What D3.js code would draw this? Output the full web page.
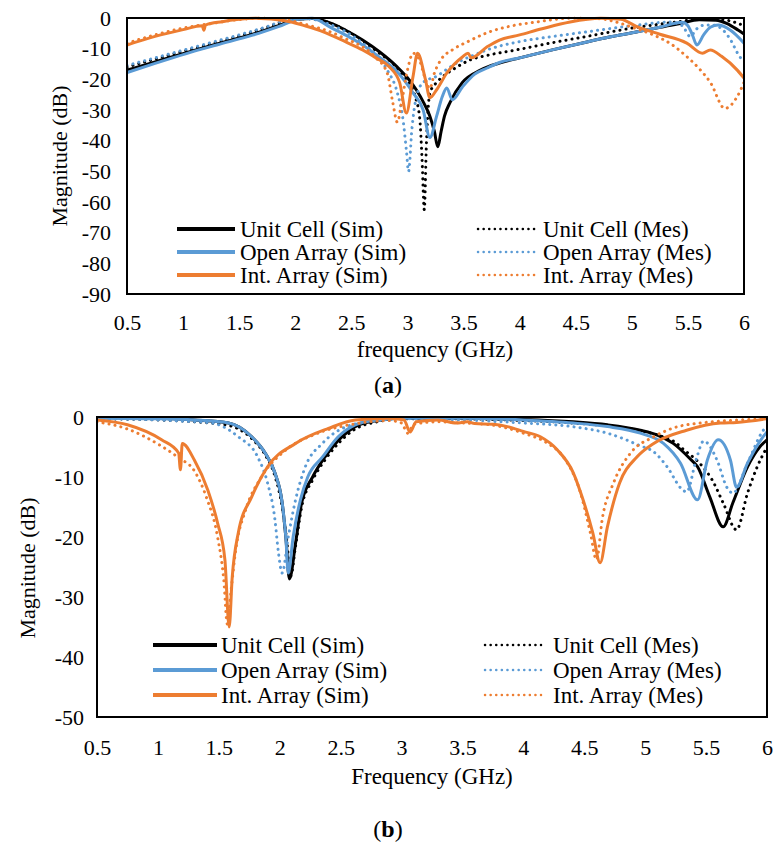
<!DOCTYPE html>
<html>
<head>
<meta charset="utf-8">
<script src="https://cdnjs.cloudflare.com/ajax/libs/d3/7.8.5/d3.min.js"></script>
<style>
body { margin: 0; background: #fff; }
</style>
</head>
<body>
<svg id="chart"></svg>
<script>
// values, [frequency (GHz), magnitude (dB)]

// ---- panel (a)
const unitSimA = [[0.5,-17],[0.75,-14.3],[1.03,-11.3],[1.3,-8.5],[1.62,-5.3],[1.85,-2.5],[2.02,-0.4],[2.15,-0.2],[2.31,-1.6],[2.45,-4],[2.6,-7.2],[2.75,-11],[2.91,-16],[3.0,-19.5],[3.08,-23.5],[3.15,-28],[3.2,-32],[3.24,-37],[3.27,-42],[3.3,-37],[3.33,-32],[3.38,-27.5],[3.49,-21],[3.65,-17],[3.82,-14.7],[4.0,-13],[4.3,-10.3],[4.6,-7.8],[4.8,-6.2],[5.05,-4.5],[5.25,-3],[5.43,-1.8],[5.6,-0.6],[5.75,-0.7],[5.85,-1.8],[5.95,-4],[6.0,-5.2]];
const unitMesA = [[0.5,-16],[0.75,-13.4],[1.0,-10.9],[1.25,-8.4],[1.5,-5.9],[1.75,-3],[1.95,-0.6],[2.1,-0.2],[2.3,-1.5],[2.45,-4],[2.6,-7.5],[2.75,-11.5],[2.9,-16],[2.96,-19],[3.03,-22],[3.07,-25.7],[3.11,-33],[3.13,-46],[3.15,-62.5],[3.17,-40],[3.2,-24.4],[3.26,-21],[3.32,-19],[3.44,-16],[3.55,-13.8],[3.71,-12.2],[4.0,-10.2],[4.3,-8],[4.6,-6],[5.05,-3],[5.4,-1.3],[5.6,-0.3],[5.8,-0.5],[5.9,-1.2],[6.0,-2.5]];
const openSimA = [[0.5,-17.8],[0.75,-14.8],[1.03,-11.6],[1.3,-8.8],[1.62,-5.6],[1.85,-2.8],[2.04,-0.3],[2.15,-0.1],[2.31,-3],[2.45,-5.6],[2.6,-8.8],[2.75,-12.8],[2.91,-17.6],[3.05,-24.4],[3.14,-30],[3.2,-39],[3.26,-32],[3.31,-25.7],[3.35,-22.8],[3.4,-26.7],[3.49,-22.5],[3.6,-18.3],[3.71,-16.3],[3.82,-14.5],[4.0,-13],[4.3,-10.3],[4.6,-7.8],[4.8,-6.2],[5.05,-4.5],[5.25,-3],[5.45,-1.4],[5.5,-2.5],[5.54,-5.5],[5.58,-8.8],[5.64,-5.5],[5.7,-3],[5.77,-2.3],[5.88,-4],[6.0,-8.2]];
const openMesA = [[0.5,-15.5],[0.75,-13],[1.0,-10.5],[1.25,-8],[1.5,-5.5],[1.75,-2.8],[1.95,-0.4],[2.1,-0.2],[2.3,-2],[2.45,-4.5],[2.6,-8.2],[2.72,-12],[2.82,-17],[2.91,-24.4],[2.96,-33],[2.99,-43],[3.01,-50],[3.04,-36],[3.08,-25.7],[3.14,-21],[3.26,-19],[3.38,-16],[3.49,-13.7],[3.6,-12],[3.71,-10.4],[4.0,-7.7],[4.3,-6],[4.6,-4.5],[5.05,-2.3],[5.34,-1.3],[5.45,-2.5],[5.52,-6],[5.58,-3.5],[5.65,-2.3],[5.72,-2.3],[5.8,-3.5],[5.87,-6.5],[5.96,-12.5],[6.0,-14.3]];
const intSimA = [[0.5,-8.8],[0.75,-6],[1.0,-3.8],[1.17,-2.5],[1.185,-4],[1.2,-2.3],[1.35,-1.2],[1.48,-0.5],[1.65,-0.1],[1.84,-0.6],[1.95,-1.2],[2.1,-2.7],[2.25,-4.5],[2.45,-7.8],[2.6,-10.4],[2.72,-13],[2.84,-16],[2.93,-21],[2.99,-31],[3.05,-19],[3.09,-11.5],[3.16,-20],[3.2,-26],[3.26,-23.4],[3.35,-18],[3.49,-12.7],[3.54,-11.5],[3.57,-13],[3.71,-9.4],[3.82,-7.2],[4.0,-5.5],[4.2,-3.5],[4.45,-1.3],[4.72,-0.1],[4.9,-0.4],[5.05,-2.9],[5.25,-5.3],[5.49,-8.2],[5.63,-11.5],[5.7,-10.4],[5.8,-12.5],[5.94,-17],[6.0,-19.6]];
const intMesA = [[0.5,-8.2],[0.75,-5.5],[1.0,-3.3],[1.25,-1.8],[1.5,-0.5],[1.7,-0.1],[1.9,-0.5],[2.1,-2.2],[2.31,-4.5],[2.45,-6.8],[2.6,-9.4],[2.72,-13],[2.82,-18],[2.87,-27.7],[2.91,-34],[2.95,-27],[3.0,-17],[3.05,-11.5],[3.11,-14],[3.16,-20],[3.2,-23],[3.24,-18],[3.3,-13.5],[3.4,-10.4],[3.55,-7.5],[3.71,-4.8],[3.9,-2.8],[4.15,-1.3],[4.45,-0.1],[4.7,-0.2],[4.85,-1.2],[5.0,-3],[5.19,-5.5],[5.35,-8.5],[5.49,-12.6],[5.6,-16.5],[5.7,-21],[5.83,-29.5],[5.94,-25.6],[6.0,-21]];

// ---- panel (b)
const unitSimB = [[0.5,-0.1],[1.0,-0.2],[1.3,-0.5],[1.58,-1],[1.77,-3.3],[1.88,-6],[1.96,-9.3],[2.02,-14.3],[2.05,-20],[2.08,-27],[2.13,-21],[2.18,-14.3],[2.27,-10],[2.37,-6.7],[2.51,-3.3],[2.62,-1.6],[2.8,-0.6],[3.0,-0.2],[3.5,-0.2],[4.0,-0.4],[4.41,-0.8],[4.69,-1.3],[4.96,-2.2],[5.1,-3],[5.23,-4.4],[5.37,-7],[5.43,-8.3],[5.53,-13.3],[5.64,-18.3],[5.72,-14.3],[5.84,-8.3],[5.94,-5],[6.0,-3.8]];
const unitMesB = [[0.5,-0.3],[1.0,-0.5],[1.3,-0.8],[1.58,-1.4],[1.77,-3.6],[1.88,-6.3],[1.96,-9.8],[2.02,-15],[2.06,-21],[2.09,-26.5],[2.13,-21.5],[2.18,-15],[2.27,-10.5],[2.37,-7.2],[2.51,-3.8],[2.62,-2],[2.8,-0.8],[3.0,-0.3],[3.5,-0.3],[4.0,-0.6],[4.41,-1.0],[4.69,-1.5],[4.96,-2.3],[5.1,-3],[5.23,-4],[5.32,-5.5],[5.46,-8],[5.55,-10.5],[5.64,-14.3],[5.75,-18.8],[5.84,-12.7],[5.92,-8.3],[6.0,-5]];
const openSimB = [[0.5,-0.2],[1.0,-0.3],[1.3,-0.5],[1.58,-1],[1.77,-3.3],[1.88,-6],[1.96,-9.3],[2.02,-14.3],[2.05,-20],[2.07,-26],[2.11,-20],[2.17,-13.8],[2.23,-10],[2.35,-6.7],[2.48,-3.3],[2.62,-1.3],[2.8,-0.5],[3.0,-0.2],[3.5,-0.2],[4.0,-0.5],[4.41,-1],[4.69,-1.6],[4.96,-2.7],[5.15,-4.4],[5.29,-7.7],[5.43,-13.8],[5.51,-7.2],[5.6,-3.8],[5.7,-7.2],[5.75,-11.7],[5.84,-7.7],[5.95,-3.8],[6.0,-2.5]];
const openMesB = [[0.5,-0.3],[1.0,-0.5],[1.2,-0.7],[1.44,-1],[1.66,-3.3],[1.82,-6.7],[1.9,-11],[1.96,-17],[1.99,-22.7],[2.02,-26],[2.07,-20],[2.13,-13.8],[2.21,-8.3],[2.35,-4.4],[2.55,-1.6],[2.8,-0.6],[3.0,-0.3],[3.5,-0.5],[4.0,-1.0],[4.4,-1.6],[4.69,-2.7],[4.96,-4.8],[5.07,-5.8],[5.18,-8.3],[5.3,-12],[5.34,-12.5],[5.42,-7],[5.48,-4],[5.59,-7.2],[5.67,-11.7],[5.72,-12.7],[5.84,-7.7],[5.97,-2.2],[6.0,-1.5]];
const intSimB = [[0.5,-0.5],[0.75,-1.3],[1.03,-3.8],[1.17,-6],[1.185,-8.8],[1.2,-4.4],[1.3,-7.2],[1.41,-12.2],[1.49,-17.7],[1.55,-23.8],[1.585,-35],[1.61,-26.7],[1.66,-19.3],[1.77,-13.3],[1.9,-8.3],[2.13,-4.4],[2.4,-1.9],[2.62,-0.5],[2.9,-0.2],[3.02,-0.5],[3.07,-2.5],[3.12,-0.8],[3.3,-0.5],[3.45,-1.0],[3.54,-0.8],[3.6,-1.1],[3.75,-1.2],[3.87,-1.6],[4.0,-2.4],[4.14,-3.3],[4.28,-5.5],[4.41,-9.3],[4.49,-13.8],[4.57,-19.3],[4.63,-24.3],[4.69,-18.3],[4.79,-11],[4.93,-6.7],[5.07,-4.4],[5.34,-2.2],[5.62,-1.0],[5.75,-0.9],[6.0,-0.3]];
const intMesB = [[0.5,-0.8],[0.75,-2],[1.0,-4.5],[1.17,-6.8],[1.3,-9],[1.4,-13.5],[1.49,-20],[1.54,-27],[1.57,-34.5],[1.6,-29],[1.64,-22],[1.72,-15.5],[1.85,-10],[2.05,-5.5],[2.3,-2.8],[2.6,-1.2],[2.9,-0.6],[3.0,-1],[3.05,-2.7],[3.1,-1.2],[3.3,-0.8],[3.5,-1],[3.73,-1.3],[4.0,-2.7],[4.2,-4.4],[4.33,-6.7],[4.47,-12.7],[4.55,-19.3],[4.6,-23.8],[4.65,-16.7],[4.74,-11],[4.88,-6],[5.07,-3.3],[5.34,-1.3],[6.0,-0.3]];

const freqTicks = [0.5, 1, 1.5, 2, 2.5, 3, 3.5, 4, 4.5, 5, 5.5, 6];
const magTicksA = [0, -10, -20, -30, -40, -50, -60, -70, -80, -90];
const magTicksB = [0, -10, -20, -30, -40, -50];

// series order as in the legend (row by row)
const seriesNames = ["Unit Cell (Sim)", "Unit Cell (Mes)", "Open Array (Sim)", "Open Array (Mes)", "Int. Array (Sim)", "Int. Array (Mes)"];
const seriesColors = ["#000000", "#000000", "#5B9BD5", "#5B9BD5", "#ED7D31", "#ED7D31"];
const seriesDotted = [false, true, false, true, false, true];

const serif = "Liberation Serif";

const svg = d3.select("#chart")
    .attr("width", 776)
    .attr("height", 846)
    .attr("font-family", serif);

svg.append("rect").attr("width", 776).attr("height", 846).attr("fill", "#fff");

function drawPanel(p) {
  const x = d3.scaleLinear().domain([0.5, 6]).range([p.left, p.right]);
  const y = d3.scaleLinear().domain([p.yMin, 0]).range([p.bottom, p.top]);

  svg.append("clipPath").attr("id", p.id)
    .append("rect")
      .attr("x", p.left).attr("y", p.top - 2)
      .attr("width", p.right - p.left).attr("height", p.bottom - p.top + 2);

  const line = d3.line()
      .x(d => x(d[0]))
      .y(d => y(d[1]))
      .curve(d3.curveMonotoneX);

  const g = svg.append("g").attr("clip-path", "url(#" + p.id + ")");
  p.series.forEach(function(s, i) {
    g.append("path")
      .datum(s)
      .attr("d", line)
      .attr("fill", "none")
      .attr("stroke", seriesColors[i])
      .attr("stroke-width", 3)
      .attr("stroke-linecap", "round")
      .attr("stroke-linejoin", "round")
      .attr("stroke-dasharray", seriesDotted[i] ? "0.1 6" : null);
  });

  // frame
  svg.append("rect")
    .attr("x", p.left).attr("y", p.top)
    .attr("width", p.right - p.left).attr("height", p.bottom - p.top)
    .attr("fill", "none").attr("stroke", "#000").attr("stroke-width", 2);

  // axes
  const xAxis = svg.append("g")
    .attr("transform", "translate(0," + p.bottom + ")")
    .call(d3.axisBottom(x).tickValues(freqTicks).tickSize(0).tickPadding(p.xPad).tickFormat(d => String(d)));
  const yAxis = svg.append("g")
    .attr("transform", "translate(" + p.left + ",0)")
    .call(d3.axisLeft(y).tickValues(p.yTicks).tickSize(0).tickPadding(p.yPad).tickFormat(d => String(d)));
  [xAxis, yAxis].forEach(function(a) {
    a.attr("font-family", serif).attr("font-size", 22);
    a.select(".domain").remove();
    a.selectAll("text").attr("fill", "#000");
  });

  svg.append("text")
    .attr("x", p.xTitle[0]).attr("y", p.xTitle[1])
    .attr("text-anchor", "middle")
    .attr("font-family", serif).attr("font-size", 23)
    .text(p.xLabel);

  svg.append("text")
    .attr("transform", "translate(" + p.yTitle[0] + "," + p.yTitle[1] + ") rotate(-90)")
    .attr("text-anchor", "middle")
    .attr("font-family", serif).attr("font-size", 22)
    .text("Magnitude (dB)");

  const tag = svg.append("text")
    .attr("x", 388).attr("y", p.tag[1])
    .attr("text-anchor", "middle")
    .attr("font-family", serif).attr("font-size", 24);
  tag.append("tspan").text("(");
  tag.append("tspan").attr("font-weight", "bold").text(p.tag[0]);
  tag.append("tspan").text(")");

  // legend, two columns: Sim on the left, Mes on the right
  seriesNames.forEach(function(name, i) {
    const col = i % 2, row = Math.floor(i / 2);
    const lx = p.legCols[col];
    const ly = p.legTop + row * p.legStep;
    svg.append("line")
      .attr("x1", lx[0]).attr("x2", lx[1])
      .attr("y1", ly).attr("y2", ly)
      .attr("stroke", seriesColors[i])
      .attr("stroke-width", seriesDotted[i] ? 2.5 : 4)
      .attr("stroke-linecap", seriesDotted[i] ? "round" : "butt")
      .attr("stroke-dasharray", seriesDotted[i] ? "0.1 5.5" : null);
    svg.append("text")
      .attr("x", lx[2]).attr("y", ly)
      .attr("dy", "0.35em")
      .attr("font-family", serif).attr("font-size", 23)
      .text(name);
  });
}

drawPanel({
  id: "clipA", left: 127, right: 744, top: 18, bottom: 294, yMin: -90,
  yTicks: magTicksA, xPad: 20, yPad: 16,
  series: [unitSimA, unitMesA, openSimA, openMesA, intSimA, intMesA],
  xLabel: "frequency (GHz)", xTitle: [435, 357], yTitle: [67, 156], tag: ["a", 393],
  legCols: [[177, 235, 240], [478, 538, 543]], legTop: 229, legStep: 23
});

drawPanel({
  id: "clipB", left: 97, right: 767, top: 417, bottom: 717, yMin: -50,
  yTicks: magTicksB, xPad: 22, yPad: 13,
  series: [unitSimB, unitMesB, openSimB, openMesB, intSimB, intMesB],
  xLabel: "Frequency (GHz)", xTitle: [432, 784], yTitle: [35, 568], tag: ["b", 837],
  legCols: [[153, 217, 221], [485, 541, 553]], legTop: 645, legStep: 25
});
</script>
</body>
</html>
